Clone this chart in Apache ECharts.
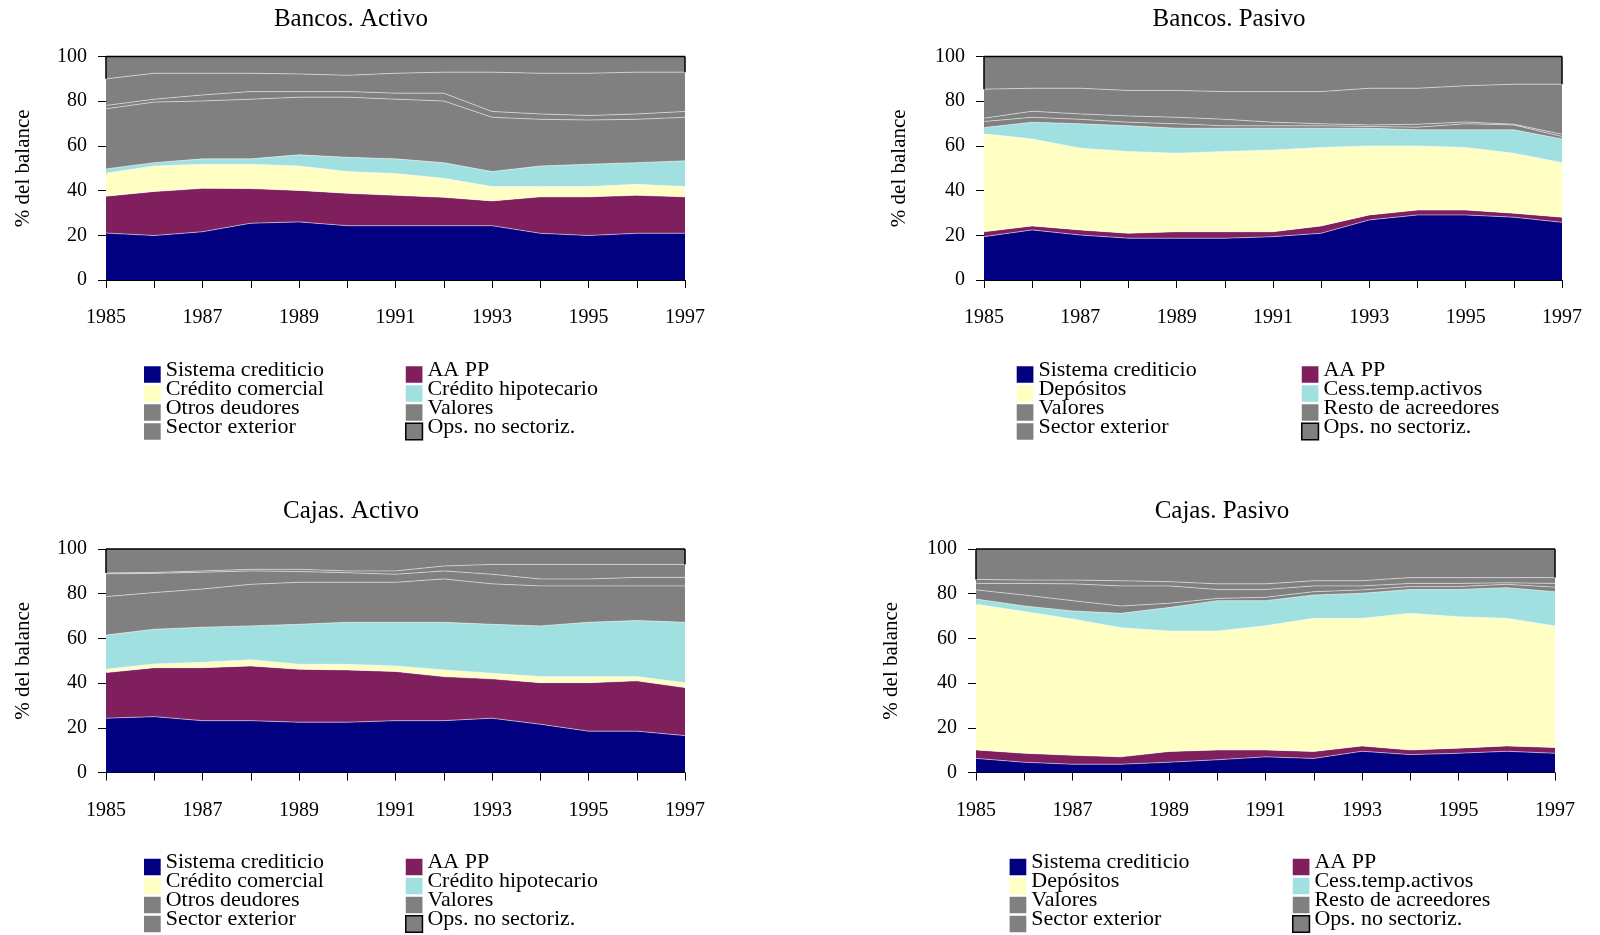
<!DOCTYPE html>
<html>
<head>
<meta charset="utf-8">
<script src="https://cdn.jsdelivr.net/npm/echarts@6/dist/echarts.min.js"></script>
<style>
  html, body { margin: 0; padding: 0; background: #ffffff; }
  #chart { width: 1600px; height: 935px; }
</style>
</head>
<body>
<div id="chart"></div>
<script>
// Years on the horizontal axis
const years = ['1985','1986','1987','1988','1989','1990','1991','1992','1993','1994','1995','1996','1997'];
const yTicks = [0, 20, 40, 60, 80, 100];

// Layer names (bottom to top)
const activoNames = ['Sistema crediticio','AA PP','Crédito comercial','Crédito hipotecario','Otros deudores','Valores','Sector exterior','Ops. no sectoriz.'];
const pasivoNames = ['Sistema crediticio','AA PP','Depósitos','Cess.temp.activos','Valores','Resto de acreedores','Sector exterior','Ops. no sectoriz.'];

// Bancos. Activo (% del balance)
const baSistema    = [21.0,19.9,21.6,25.4,26.0,24.3,24.3,24.3,24.3,20.9,19.9,20.9,20.9];
const baAAPP       = [16.5,19.7,19.4,15.5,14.1,14.5,13.6,12.7,11.1,16.3,17.3,17.0,16.3];
const baComercial  = [10.3,11.4,10.8,10.9,10.9, 9.7, 9.7, 8.5, 6.4, 4.6, 4.6, 4.9, 4.6];
const baHipotec    = [ 1.9, 1.5, 2.4, 2.4, 5.0, 6.4, 6.6, 7.0, 6.7, 9.2,10.0, 9.7,11.5];
const baOtros      = [26.9,27.1,25.9,26.7,25.8,26.9,26.7,27.6,24.3,20.9,19.8,19.4,19.5];
const baValores    = [ 1.5, 1.3, 2.7, 3.4, 2.5, 2.5, 2.7, 3.5, 2.6, 2.4, 2.0, 2.4, 2.6];
const baExterior   = [11.9,11.6, 9.7, 8.2, 7.9, 7.3, 8.9, 9.4,17.6,18.2,18.9,18.7,17.6];
const baOps        = [10.0, 7.5, 7.5, 7.5, 7.8, 8.4, 7.5, 7.0, 7.0, 7.5, 7.5, 7.0, 7.0];

// Bancos. Pasivo
const bpSistema    = [19.4,22.4,20.1,18.7,18.7,18.7,19.4,20.9,26.9,29.1,29.1,28.1,25.8];
const bpAAPP       = [ 2.2, 1.8, 2.3, 2.2, 2.9, 2.9, 2.2, 3.3, 2.2, 2.2, 2.2, 1.8, 2.3];
const bpDepositos  = [43.8,38.9,36.6,36.6,35.1,35.9,36.6,35.1,30.9,28.7,28.0,26.8,24.4];
const bpCesiones   = [ 2.8, 7.5,10.9,11.5,11.2,10.4, 9.7, 8.6, 7.9, 7.2, 7.9,10.5,10.6];
const bpValores    = [ 2.7, 2.2, 2.0, 1.6, 2.0, 1.1, 1.1, 1.1, 0.8, 1.2, 2.7, 2.2, 1.1];
const bpResto      = [ 1.5, 2.7, 2.4, 2.8, 2.9, 2.9, 1.6, 0.9, 0.7, 1.3, 0.8, 0.3, 1.0];
const bpExterior   = [13.0,10.3,11.5,11.4,12.0,12.4,13.7,14.4,16.4,16.1,16.2,17.9,22.4];
const bpOps        = [14.6,14.2,14.2,15.2,15.2,15.7,15.7,15.7,14.2,14.2,13.1,12.4,12.4];

// Cajas. Activo
const caSistema    = [24.3,25.0,23.2,23.2,22.5,22.5,23.2,23.2,24.3,21.6,18.5,18.5,16.5];
const caAAPP       = [20.4,21.9,23.7,24.5,23.7,23.4,22.0,19.7,17.6,18.6,21.7,22.5,21.5];
const caComercial  = [ 1.5, 1.7, 2.4, 2.7, 2.2, 2.5, 2.5, 3.0, 2.5, 2.7, 2.7, 1.9, 2.2];
const caHipotec    = [15.3,15.5,15.7,15.2,17.9,18.8,19.5,21.3,21.9,22.7,24.3,25.1,27.0];
const caOtros      = [17.2,16.4,17.1,18.6,18.8,17.9,17.9,19.4,18.1,17.9,16.3,15.5,16.3];
const caValores    = [10.2, 8.6, 7.5, 6.0, 4.8, 4.3, 3.6, 3.6, 4.3, 3.1, 3.1, 3.8, 3.8];
const caExterior   = [ 0.4, 0.4, 0.6, 0.7, 1.0, 0.8, 1.5, 2.2, 4.4, 6.5, 6.5, 5.8, 5.8];
const caOps        = [10.7,10.5, 9.8, 9.1, 9.1, 9.8, 9.8, 7.6, 6.9, 6.9, 6.9, 6.9, 6.9];

// Cajas. Pasivo
const cpSistema    = [ 6.3, 4.6, 3.7, 3.7, 4.6, 5.7, 7.0, 6.3, 9.5, 8.0, 8.6, 9.5, 8.6];
const cpAAPP       = [ 3.8, 4.0, 4.0, 3.3, 4.8, 4.4, 3.1, 3.1, 2.4, 2.1, 2.3, 2.4, 2.6];
const cpDepositos  = [65.2,63.4,61.0,57.8,53.9,53.2,55.6,59.6,57.1,61.1,58.8,57.1,54.4];
const cpCesiones   = [ 2.3, 2.5, 3.6, 6.4,10.5,13.6,11.2,10.4,11.2,10.7,12.2,13.7,15.3];
const cpValores    = [ 4.1, 4.9, 4.6, 3.3, 1.9, 1.0, 1.5, 1.5, 1.5, 1.3, 1.3, 1.5, 2.0];
const cpResto      = [ 2.9, 5.2, 7.5, 9.0, 7.8, 4.0, 3.5, 2.6, 1.8, 1.4, 1.4, 0.7, 1.7];
const cpExterior   = [ 1.8, 1.5, 1.7, 2.3, 1.9, 2.5, 2.5, 2.3, 2.3, 2.6, 2.6, 2.3, 2.6];
const cpOps        = [13.6,13.9,13.9,14.2,14.6,15.6,15.6,14.2,14.2,12.8,12.8,12.8,12.8];

// Fill colour of each layer, bottom to top
const fills = ['#000080','#801f5e','#ffffc4','#a0e0e0','#808080','#808080','#808080','#808080'];

const panels = [
  { title: 'Bancos. Activo', names: activoNames,
    layers: [baSistema, baAAPP, baComercial, baHipotec, baOtros, baValores, baExterior, baOps],
    grid: { left: 106, top: 56.5, width: 579, height: 223.5 },
    titleX: 351, titleY: 6.5, nameGap: 72, legendX: [144, 405], legendY: 359 },
  { title: 'Bancos. Pasivo', names: pasivoNames,
    layers: [bpSistema, bpAAPP, bpDepositos, bpCesiones, bpValores, bpResto, bpExterior, bpOps],
    grid: { left: 984, top: 56.5, width: 578, height: 223.5 },
    titleX: 1229, titleY: 6.5, nameGap: 74, legendX: [1016.7, 1301], legendY: 359 },
  { title: 'Cajas. Activo', names: activoNames,
    layers: [caSistema, caAAPP, caComercial, caHipotec, caOtros, caValores, caExterior, caOps],
    grid: { left: 106, top: 549, width: 579, height: 223.5 },
    titleX: 351, titleY: 498.5, nameGap: 72, legendX: [144, 405], legendY: 851.5 },
  { title: 'Cajas. Pasivo', names: pasivoNames,
    layers: [cpSistema, cpAAPP, cpDepositos, cpCesiones, cpValores, cpResto, cpExterior, cpOps],
    grid: { left: 976, top: 549, width: 579, height: 223.5 },
    titleX: 1222, titleY: 498.5, nameGap: 74, legendX: [1009.6, 1292], legendY: 851.5 }
];

const serifText = 'Liberation Serif';

// Legend geometry: square icons, label sitting a little above the icon centre
// (an empty second text line lifts the first line); rows overlap via a negative gap
const iconW = 16.7, iconH = 16.5;
const legendGap = -12;
const legendText = { fontFamily: serifText, fontSize: 22, color: '#000', lineHeight: 9 };

const option = {
  animation: false,
  backgroundColor: '#ffffff',
  grid: [], xAxis: [], yAxis: [], series: [], legend: [], graphic: []
};

panels.forEach((p, i) => {
  option.grid.push(Object.assign({ containLabel: false }, p.grid));
  option.xAxis.push({
    gridIndex: i, type: 'category', data: years, boundaryGap: false,
    axisLine: { lineStyle: { color: '#000', width: 1 } },
    axisTick: { interval: 0, length: 8, lineStyle: { color: '#000', width: 1 } },
    axisLabel: { interval: 1, margin: 28, fontFamily: serifText, fontSize: 20, color: '#000' },
    splitLine: { show: false }
  });
  option.yAxis.push({
    gridIndex: i, type: 'value', min: yTicks[0], max: yTicks[yTicks.length - 1],
    interval: yTicks[1] - yTicks[0],
    name: '% del balance', nameLocation: 'middle', nameRotate: 90, nameGap: p.nameGap,
    nameTextStyle: { fontFamily: serifText, fontSize: 21, color: '#000' },
    axisLine: { show: true, lineStyle: { color: '#000', width: 1 } },
    axisTick: { show: true, length: 8, lineStyle: { color: '#000', width: 1 } },
    axisLabel: { margin: 19, fontFamily: serifText, fontSize: 20, color: '#000' },
    splitLine: { show: false }
  });

  const last = p.layers.length - 1;
  p.layers.forEach((vals, k) => {
    const isTop = k === last;
    const s = {
      name: p.names[k], type: 'line', xAxisIndex: i, yAxisIndex: i,
      stack: 'total' + i, data: vals, symbol: 'none', showSymbol: false,
      clip: !isTop, silent: true,
      itemStyle: { color: fills[k] },
      areaStyle: { color: fills[k], opacity: 1 },
      lineStyle: isTop ? { color: '#000', width: 1.5 } : { color: 'rgba(255,255,255,0.5)', width: 1 },
      z: 2
    };
    if (isTop) {
      // black outline on the side edges of the top layer
      const b0 = 100 - vals[0], b1 = 100 - vals[vals.length - 1];
      s.markLine = {
        silent: true, symbol: 'none', label: { show: false },
        lineStyle: { color: '#000', width: 1.5, type: 'solid' },
        data: [
          [{ coord: [years[0], b0] }, { coord: [years[0], 100] }],
          [{ coord: [years[years.length - 1], b1] }, { coord: [years[years.length - 1], 100] }]
        ]
      };
    }
    option.series.push(s);
  });

  // Two legend columns: even layers on the left, odd layers on the right
  [0, 1].forEach(col => {
    const items = p.names.filter((n, k) => k % 2 === col).map(n =>
      n === 'Ops. no sectoriz.'
        ? { name: n, itemStyle: { color: '#808080', borderColor: '#000', borderWidth: 1.5 } }
        : { name: n });
    option.legend.push({
      orient: 'vertical', left: p.legendX[col], top: p.legendY,
      width: 260, height: 200,
      padding: 0, itemGap: legendGap, itemWidth: iconW, itemHeight: iconH,
      icon: 'rect', selectedMode: false, data: items,
      itemStyle: { borderWidth: 0 },
      formatter: name => name + '\n',
      textStyle: legendText
    });
  });

  option.graphic.push({
    type: 'text', x: p.titleX, y: p.titleY, silent: true,
    style: { text: p.title, fontFamily: serifText, fontSize: 25, fill: '#000',
             textAlign: 'center', textVerticalAlign: 'top' }
  });
});

const chart = echarts.init(document.getElementById('chart'), null, { renderer: 'canvas' });
chart.setOption(option);
</script>
</body>
</html>
